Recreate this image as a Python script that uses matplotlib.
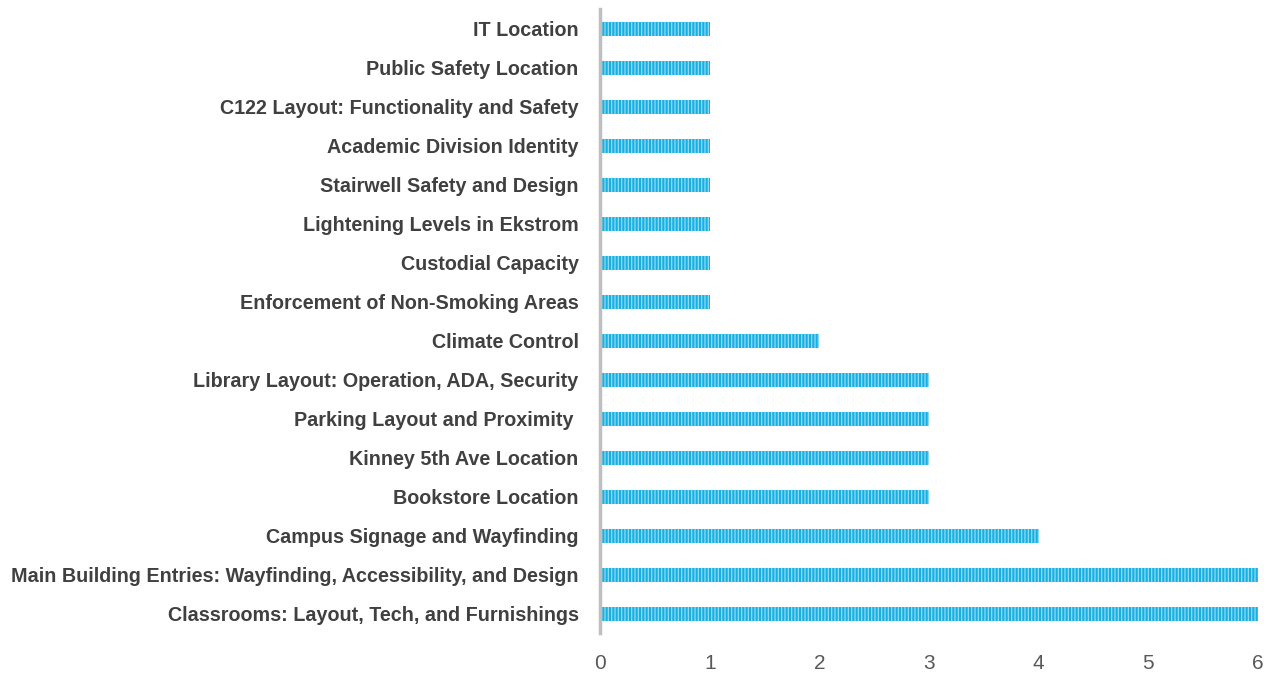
import matplotlib.pyplot as plt
import matplotlib as mpl

topics = [
    "IT Location",
    "Public Safety Location",
    "C122 Layout: Functionality and Safety",
    "Academic Division Identity",
    "Stairwell Safety and Design",
    "Lightening Levels in Ekstrom",
    "Custodial Capacity",
    "Enforcement of Non-Smoking Areas",
    "Climate Control",
    "Library Layout: Operation, ADA, Security",
    "Parking Layout and Proximity ",
    "Kinney 5th Ave Location",
    "Bookstore Location",
    "Campus Signage and Wayfinding",
    "Main Building Entries: Wayfinding, Accessibility, and Design",
    "Classrooms: Layout, Tech, and Furnishings",
]
counts = [1, 1, 1, 1, 1, 1, 1, 1, 2, 3, 3, 3, 3, 4, 6, 6]

plt.rcParams['font.family'] = ['Liberation Sans', 'DejaVu Sans']
mpl.rcParams['hatch.color'] = '#8fdcf3'
mpl.rcParams['hatch.linewidth'] = 0.9

fig = plt.figure(figsize=(12.67, 6.75), dpi=100)
ax = fig.add_axes([0.4736, 0.062, 0.5194, 0.924])

pos = list(range(len(topics)))[::-1]
ax.barh(pos, counts, height=0.36, color='#18b0e2', hatch='|||||', linewidth=0)

ax.set_yticks(pos)
ax.set_yticklabels(topics, fontsize=14.2, color='#404040', fontweight='bold')
ax.set_ylim(-0.5, len(topics) - 0.5)
ax.set_xlim(0, 6)
ax.set_xticks(range(7))
ax.tick_params(axis='x', labelsize=15, colors='#595959', length=0, pad=15)
ax.tick_params(axis='y', length=0, pad=15.5)

for side in ['top', 'right', 'bottom']:
    ax.spines[side].set_visible(False)
ax.spines['left'].set_color('#bfbfbf')
ax.spines['left'].set_linewidth(2.5)

plt.savefig("out.png", dpi=100)
